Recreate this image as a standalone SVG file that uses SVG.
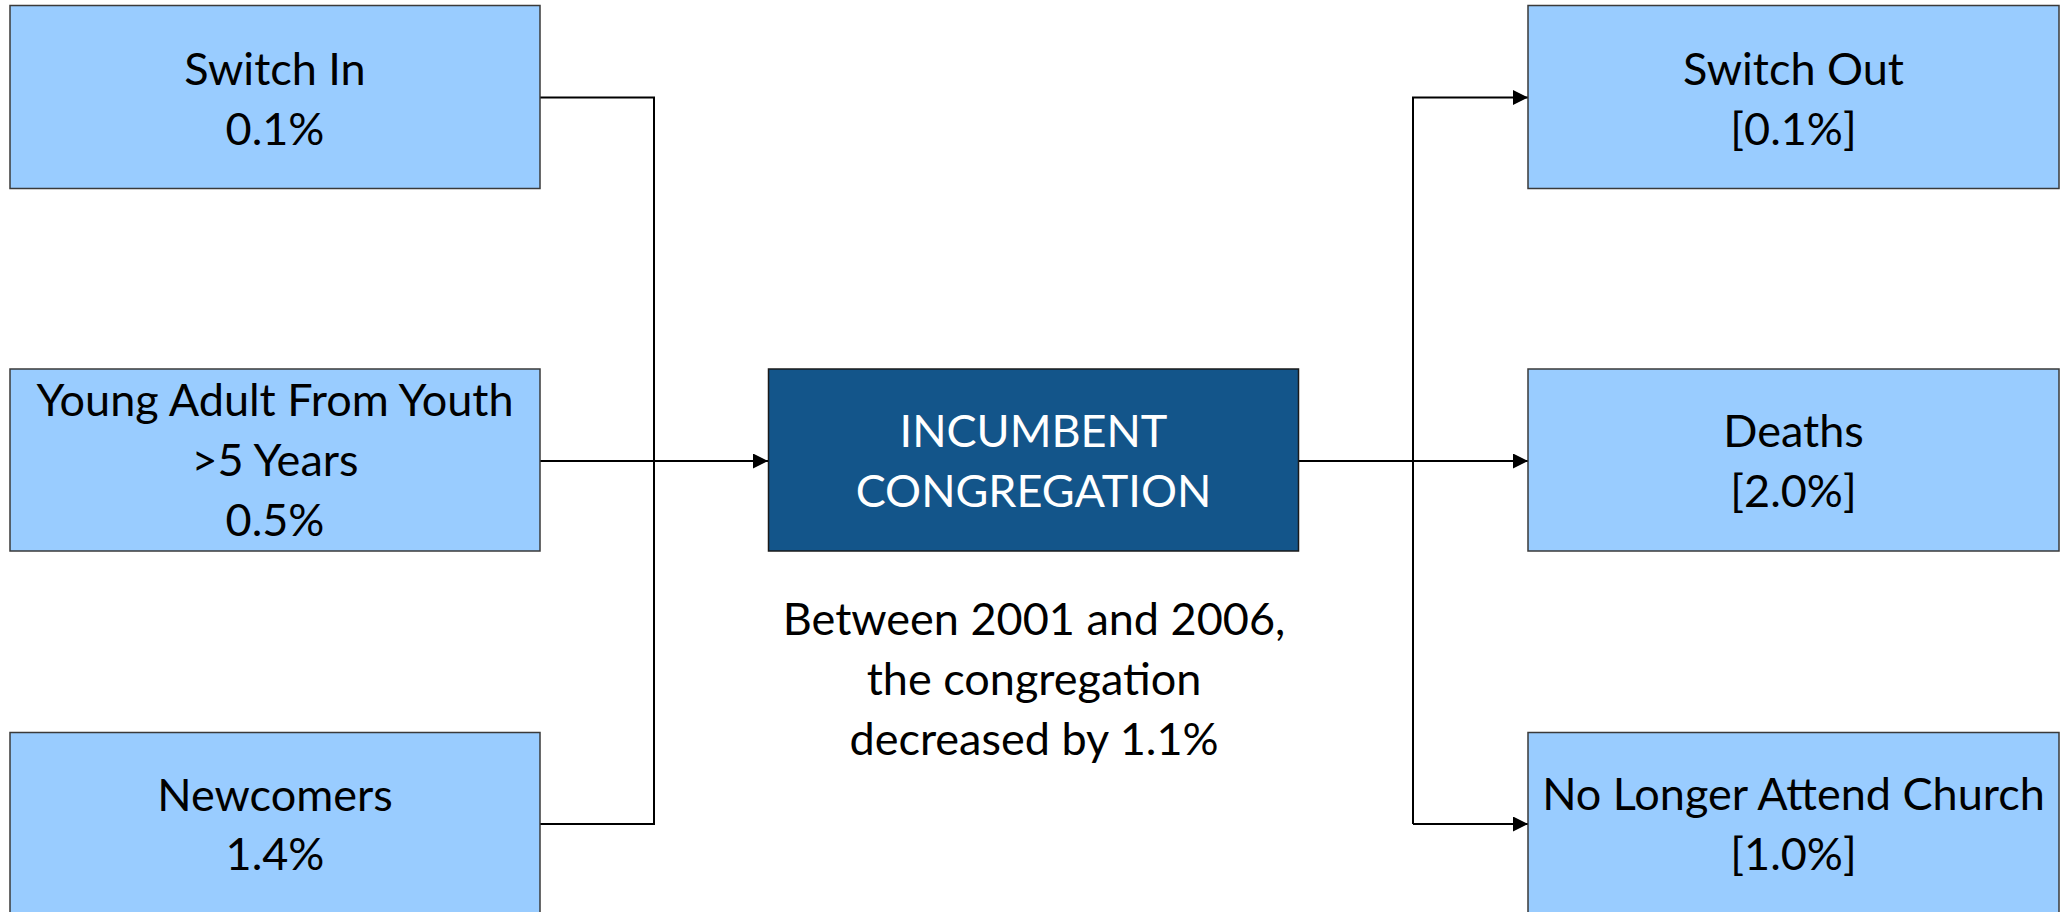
<svg xmlns="http://www.w3.org/2000/svg" width="2067" height="912" viewBox="0 0 2067 912">
<style>
.lb{fill:#99CCFF;stroke:#3a3a3a;stroke-width:1.5}
.db{fill:#13558A;stroke:#1a1a1a;stroke-width:1.5}
.t{font-family:Lato,"Liberation Sans",sans-serif;font-size:45px;fill:#000;text-anchor:middle}
.w{fill:#fff}
.c{fill:none;stroke:#000;stroke-width:2}
</style>
<defs>
<marker id="ah" markerUnits="userSpaceOnUse" markerWidth="16" markerHeight="16" refX="15" refY="7.5" orient="auto">
<path d="M0,0 L15,7.5 L0,15 z" fill="#000"/>
</marker>
</defs>
<g id="connectors">
<path class="c" d="M540,97.5 H654 V824 H540"/>
<path class="c" d="M540,461 H768" marker-end="url(#ah)"/>
<path class="c" d="M1298,461 H1528" marker-end="url(#ah)"/>
<path class="c" d="M1413,824 V97.5 H1528" marker-end="url(#ah)"/>
<path class="c" d="M1413,824 H1528" marker-end="url(#ah)"/>
</g>
<g id="switch-in">
<rect class="lb" x="10" y="5.5" width="530" height="183"/>
<text class="t" x="275" y="85">Switch In</text>
<text class="t" x="275" y="145">0.1%</text>
</g>
<g id="young-adult">
<rect class="lb" x="10" y="369" width="530" height="182"/>
<text class="t" x="275" y="416">Young Adult From Youth</text>
<text class="t" x="275" y="476">&gt;5 Years</text>
<text class="t" x="275" y="536">0.5%</text>
</g>
<g id="newcomers">
<rect class="lb" x="10" y="732.5" width="530" height="183"/>
<text class="t" x="275" y="811">Newcomers</text>
<text class="t" x="275" y="870">1.4%</text>
</g>
<g id="incumbent">
<rect class="db" x="768.5" y="369" width="530" height="182"/>
<text class="t w" x="1033.5" y="447">INCUMBENT</text>
<text class="t w" x="1033.5" y="507">CONGREGATION</text>
</g>
<g id="summary">
<text class="t" x="1034" y="635">Between 2001 and 2006,</text>
<text class="t" x="1034" y="695">the congregation</text>
<text class="t" x="1034" y="755">decreased by 1.1%</text>
</g>
<g id="switch-out">
<rect class="lb" x="1528" y="5.5" width="531" height="183"/>
<text class="t" x="1793.5" y="85">Switch Out</text>
<text class="t" x="1793.5" y="145">[0.1%]</text>
</g>
<g id="deaths">
<rect class="lb" x="1528" y="369" width="531" height="182"/>
<text class="t" x="1793.5" y="447">Deaths</text>
<text class="t" x="1793.5" y="507">[2.0%]</text>
</g>
<g id="no-longer">
<rect class="lb" x="1528" y="732.5" width="531" height="183"/>
<text class="t" x="1793.5" y="810">No Longer Attend Church</text>
<text class="t" x="1793.5" y="870">[1.0%]</text>
</g>
</svg>
